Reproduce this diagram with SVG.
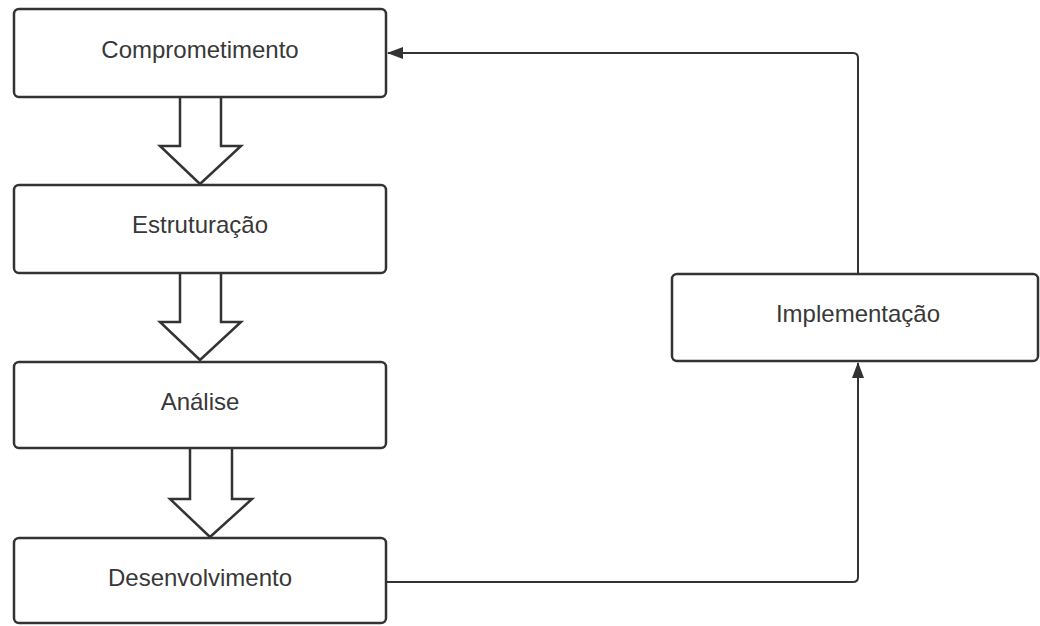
<svg xmlns="http://www.w3.org/2000/svg" width="1040" height="626" viewBox="0 0 1040 626">
<defs>
<style>
.box{fill:#fff;stroke:#333;stroke-width:2.5}
.lbl{font-family:"Liberation Sans",Arial,sans-serif;font-size:24px;fill:#383838;text-anchor:middle}
.blk{fill:#fff;stroke:#333;stroke-width:2.5;stroke-linejoin:miter}
.conn{fill:none;stroke:#333;stroke-width:2}
</style>
<marker id="ah" markerWidth="16" markerHeight="12" refX="15" refY="6" orient="auto" markerUnits="userSpaceOnUse">
<path d="M0,0 L16,6 L0,12 Z" fill="#333"/>
</marker>
</defs>
<rect width="1040" height="626" fill="#fff"/>
<g id="connectors">
<path class="blk" d="M180,97 L180,146 L160,146 L200,184 L241,146 L221,146 L221,97"/>
<path class="blk" d="M180,273 L180,322 L160,322 L200,360 L241,322 L221,322 L221,273"/>
<path class="blk" d="M190,448 L190,499 L170,499 L210,537 L252,499 L232,499 L232,448"/>
<path class="conn" d="M858,274 L858,58 Q858,53 853,53 L388,53" marker-end="url(#ah)"/>
<path class="conn" d="M387,582 L853,582 Q858,582 858,577 L858,363" marker-end="url(#ah)"/>
</g>
<g id="n1"><rect class="box" x="14" y="9" width="372" height="88" rx="5"/><text class="lbl" x="200" y="58">Comprometimento</text></g>
<g id="n2"><rect class="box" x="14" y="185" width="372" height="88" rx="5"/><text class="lbl" x="200" y="233">Estruturação</text></g>
<g id="n3"><rect class="box" x="14" y="362" width="372" height="86" rx="5"/><text class="lbl" x="200" y="410">Análise</text></g>
<g id="n4"><rect class="box" x="14" y="538" width="372" height="85" rx="5"/><text class="lbl" x="200" y="586">Desenvolvimento</text></g>
<g id="n5"><rect class="box" x="672" y="274" width="366" height="87" rx="5"/><text class="lbl" x="858" y="322">Implementação</text></g>
</svg>
